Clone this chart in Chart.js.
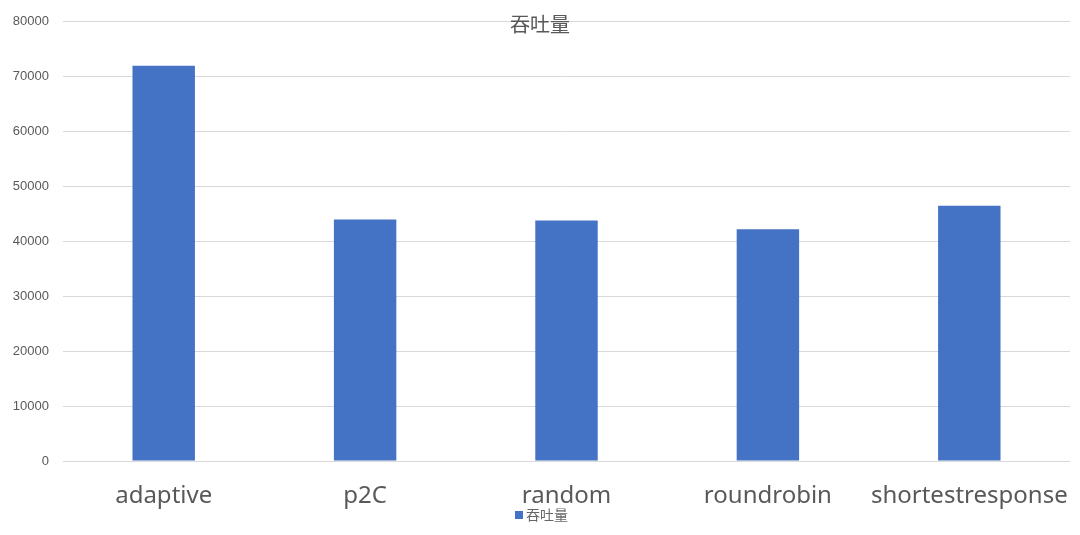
<!DOCTYPE html>
<html>
<head>
<meta charset="utf-8">
<script src="https://cdn.jsdelivr.net/npm/chart.js@4"></script>
<style>
  html, body { margin: 0; padding: 0; background: #fff; }
  #wrap { width: 1080px; height: 535px; }
</style>
</head>
<body>
<div id="wrap"><canvas id="barChart" width="1080" height="535"></canvas></div>
<script>
// datos
const categories = ["adaptive", "p2C", "random", "roundrobin", "shortestresponse"];
const throughput = [72000, 44000, 43800, 42200, 46500];
const seriesName = "吞吐量";
const chartTitle = "吞吐量";

const TEXT = "#595959";
const BAR = "#4472C4";

// título y leyenda dibujados encima (como en Excel, se solapan con el área)
const overlayPlugin = {
  id: "overlay",
  afterDraw(chart){
    const ctx = chart.ctx;
    ctx.save();
    ctx.font = '20px "Noto Sans CJK SC", "Noto Sans", sans-serif';
    ctx.fillStyle = TEXT;
    ctx.textAlign = "center";
    ctx.textBaseline = "middle";
    ctx.fillText(chartTitle, 540, 24);

    // leyenda: cuadrito + nombre de la serie
    const ds = chart.data.datasets[0];
    ctx.fillStyle = ds.backgroundColor;
    ctx.fillRect(515, 511, 8, 8);
    ctx.font = '14px "Noto Sans CJK SC", sans-serif';
    ctx.fillStyle = "#666666";
    ctx.textAlign = "left";
    ctx.fillText(ds.label, 526, 515);
    ctx.restore();
  }
};

new Chart(document.getElementById("barChart").getContext("2d"), {
  type: "bar",
  data: {
    labels: categories,
    datasets: [{
      label: seriesName,
      data: throughput,
      backgroundColor: BAR,
      borderWidth: 0,
      categoryPercentage: 1,
      barPercentage: 0.31
    }]
  },
  options: {
    responsive: false,
    animation: false,
    layout: { padding: { top: 20, right: 10, left: 0, bottom: 0 } },
    plugins: {
      title: { display: false },
      tooltip: { enabled: false },
      legend: { display: false }
    },
    scales: {
      x: {
        grid: { display: false, drawTicks: false },
        border: { display: false },
        ticks: {
          color: TEXT,
          padding: 21,
          autoSkip: false,
          maxRotation: 0,
          minRotation: 0,
          font: { size: 24, family: '"Noto Sans", sans-serif' }
        },
        afterFit(scale){
          scale.height = 74;
          scale.paddingLeft = 0;
          scale.paddingRight = 0;
        }
      },
      y: {
        min: 0,
        max: 80000,
        grid: { color: "#d9d9d9", drawTicks: false },
        border: { display: false },
        ticks: {
          stepSize: 10000,
          color: TEXT,
          padding: 14,
          font: { size: 13, family: '"Liberation Sans", Arial, sans-serif' },
          callback: v => String(v)
        },
        afterFit(scale){ scale.width = 63; }
      }
    }
  },
  plugins: [overlayPlugin]
});
</script>
</body>
</html>
